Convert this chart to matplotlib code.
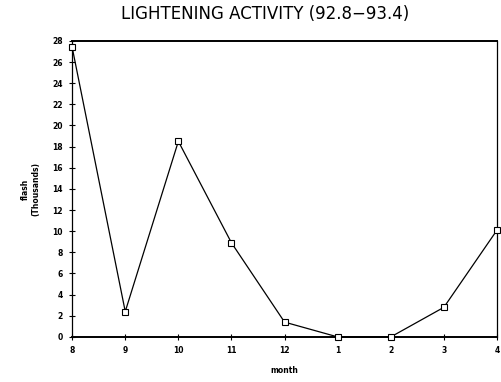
import matplotlib
matplotlib.use("Agg")
import matplotlib.pyplot as plt

months = ["8", "9", "10", "11", "12", "1", "2", "3", "4"]
flash = [27.4, 2.4, 18.5, 8.9, 1.4, 0.0, 0.0, 2.8, 10.1]
yticks = list(range(0, 29, 2))

fig = plt.figure(figsize=(5.01, 3.82), dpi=100)
ax = fig.add_axes([0.144, 0.118, 0.848, 0.775])
x = list(range(len(months)))
ax.plot(x, flash, color="black", linewidth=0.9, marker="s", markersize=4,
        markerfacecolor="white", markeredgecolor="black", markeredgewidth=0.8,
        clip_on=False, zorder=5)
ax.set_xlim(0, len(months) - 1)
ax.set_ylim(0, 28)
ax.set_xticks(x)
ax.set_xticklabels(months, fontsize=5.5, fontweight="bold")
ax.set_yticks(yticks)
ax.set_yticklabels([str(v) for v in yticks], fontsize=5.5, fontweight="bold")
ax.tick_params(direction="inout", length=5, width=0.8, pad=4)
for s in ax.spines.values():
    s.set_linewidth(0.9)
ax.spines["top"].set_linewidth(1.4)
ax.spines["bottom"].set_linewidth(1.4)
ax.set_xlabel("month", fontsize=5.5, fontweight="bold", labelpad=8)
ax.set_ylabel("flash\n(Thousands)", fontsize=5.5, fontweight="bold", labelpad=9)
fig.text(0.53, 0.963, "LIGHTENING ACTIVITY (92.8\u221293.4)", ha="center",
         va="center", fontsize=12, color="black", family="DejaVu Sans")
fig.savefig("out.png", dpi=100)
